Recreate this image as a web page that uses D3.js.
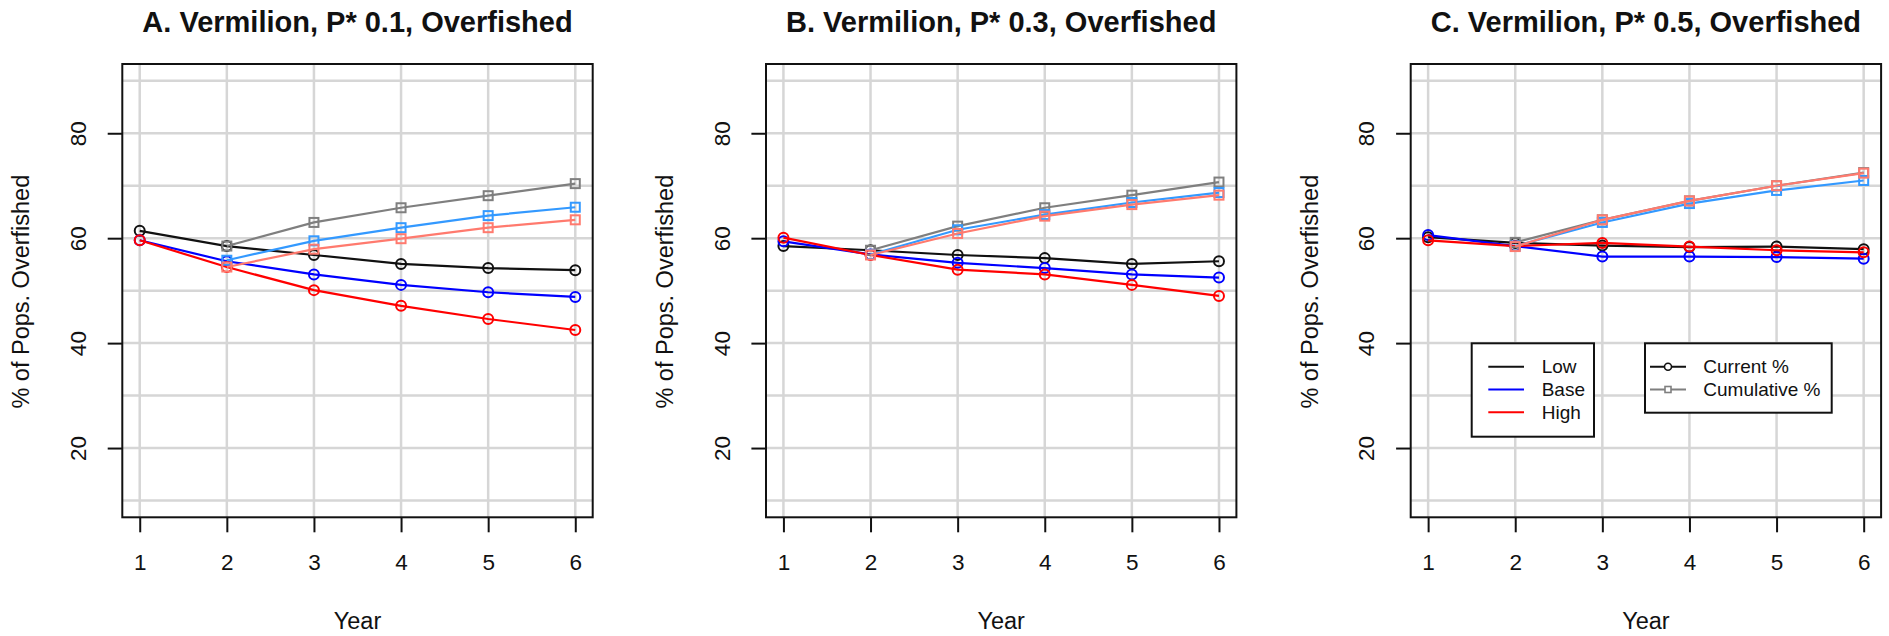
<!DOCTYPE html>
<html>
<head>
<meta charset="utf-8">
<script src="https://cdn.jsdelivr.net/npm/d3@7"></script>
<style>
    body { margin: 0; background: white; }
    svg text { font-family: "Liberation Sans", Arial, Helvetica, sans-serif; fill: #111; }
</style>
</head>
<body>
<svg id="chart" width="1889" height="636"></svg>
<script>
// values
var years = [1, 2, 3, 4, 5, 6]
var cumYears = [2, 3, 4, 5, 6]
var yTicks = [20, 40, 60, 80]
var yGrid = [10, 20, 30, 40, 50, 60, 70, 80, 90]
var titles = ["A. Vermilion, P* 0.1, Overfished", "B. Vermilion, P* 0.3, Overfished", "C. Vermilion, P* 0.5, Overfished"]
var scenarios = ["Low", "Base", "High"]
var measureNames = ["Current %", "Cumulative %"]

// current % overfished, per panel, per scenario (Low, Base, High)
var currentA = [[61.4, 58.5, 56.8, 55.1, 54.3, 53.9], [59.6, 55.6, 53.1, 51.1, 49.7, 48.8], [59.6, 54.5, 50.1, 47.1, 44.6, 42.5]]
var currentB = [[58.5, 57.7, 56.8, 56.2, 55.1, 55.6], [59.4, 56.9, 55.3, 54.3, 53.1, 52.5], [60.1, 56.8, 54.0, 53.1, 51.1, 49.0]]
var currentC = [[60.2, 59.1, 58.6, 58.3, 58.4, 57.9], [60.6, 58.5, 56.5, 56.5, 56.4, 56.1], [59.6, 58.5, 59.1, 58.4, 57.7, 57.3]]
// cumulative % overfished, years 2-6
var cumulativeA = [[58.5, 63.0, 65.8, 68.1, 70.4], [55.8, 59.5, 62.0, 64.3, 65.9], [54.5, 57.9, 59.9, 62.0, 63.5]]
var cumulativeB = [[57.7, 62.3, 65.8, 68.2, 70.7], [56.9, 61.6, 64.5, 66.8, 68.7], [56.8, 60.9, 64.2, 66.4, 68.2]]
var cumulativeC = [[59.2, 63.5, 67.1, 70.0, 72.5], [58.5, 63.0, 66.6, 69.1, 71.0], [58.4, 63.5, 67.1, 70.0, 72.4]]

var currentColors = ["#111111", "#0000ff", "#ff0000"]
var cumulativeColors = ["#7f7f7f", "#3399ff", "#ff7a6e"]

var panelLefts = [122.3, 766, 1410.7]
const plotWidth = 470.4
const plotTop = 64
const plotHeight = 453.3

var svg = d3.select("#chart");
svg.append("rect").attr("width", 1889).attr("height", 636).attr("fill", "white");

function build_panel(index, current, cumulative, withLegend) {
    var panel = svg.append("g")
        .attr("transform", "translate(" + panelLefts[index] + "," + plotTop + ")");

    // R style 4% extension on both axes
    var xScale = d3.scaleLinear().domain([0.8, 6.2]).range([0, plotWidth]);
    var yScale = d3.scaleLinear().domain([6.8, 93.2]).range([plotHeight, 0]);

    panel.append("g").selectAll("line.vgrid")
        .data(years).enter()
        .append("line").classed("vgrid", true)
        .attr("x1", d => xScale(d)).attr("x2", d => xScale(d))
        .attr("y1", 0).attr("y2", plotHeight)
        .attr("stroke", "#d6d6d6").attr("stroke-width", 2.5);
    panel.append("g").selectAll("line.hgrid")
        .data(yGrid).enter()
        .append("line").classed("hgrid", true)
        .attr("x1", 0).attr("x2", plotWidth)
        .attr("y1", d => yScale(d)).attr("y2", d => yScale(d))
        .attr("stroke", "#d6d6d6").attr("stroke-width", 2.5);

    var xAxis = panel.append("g")
        .attr("transform", "translate(0," + plotHeight + ")")
        .call(d3.axisBottom(xScale).tickValues(years).tickSize(15).tickFormat(d3.format("d")));
    xAxis.select(".domain").remove();
    xAxis.selectAll("line").attr("stroke", "#111").attr("stroke-width", 2);
    xAxis.selectAll("text")
        .attr("y", 52.7).attr("dy", 0)
        .style("font-size", "22.5px").style("font-family", "Liberation Sans, Arial, sans-serif").attr("fill", "#111");

    var yAxis = panel.append("g")
        .call(d3.axisLeft(yScale).tickValues(yTicks).tickSize(14.6));
    yAxis.select(".domain").remove();
    yAxis.selectAll("line").attr("stroke", "#111").attr("stroke-width", 2);
    yAxis.selectAll("text")
        .attr("x", 0).attr("dy", 0)
        .attr("text-anchor", "middle")
        .attr("transform", "translate(-36.3,0) rotate(-90)")
        .style("font-size", "22.5px").style("font-family", "Liberation Sans, Arial, sans-serif").attr("fill", "#111");

    var line = d3.line().x(d => xScale(d[0])).y(d => yScale(d[1]));

    // current % series: lines with open circles
    current.forEach(function(values, s) {
        var points = years.map((yr, i) => [yr, values[i]]);
        panel.append("path")
            .attr("d", line(points))
            .attr("fill", "none").attr("stroke", currentColors[s]).attr("stroke-width", 2.2);
        panel.append("g").selectAll("circle")
            .data(points).enter()
            .append("circle")
            .attr("cx", d => xScale(d[0])).attr("cy", d => yScale(d[1]))
            .attr("r", 5)
            .attr("fill", "none").attr("stroke", currentColors[s]).attr("stroke-width", 2);
    });

    // cumulative % series: lines with open squares
    cumulative.forEach(function(values, s) {
        var points = cumYears.map((yr, i) => [yr, values[i]]);
        panel.append("path")
            .attr("d", line(points))
            .attr("fill", "none").attr("stroke", cumulativeColors[s]).attr("stroke-width", 2.2);
        panel.append("g").selectAll("rect")
            .data(points).enter()
            .append("rect")
            .attr("x", d => xScale(d[0]) - 4.5).attr("y", d => yScale(d[1]) - 4.5)
            .attr("width", 9).attr("height", 9)
            .attr("fill", "none").attr("stroke", cumulativeColors[s]).attr("stroke-width", 2);
    });

    panel.append("rect")
        .attr("width", plotWidth).attr("height", plotHeight)
        .attr("fill", "none").attr("stroke", "#111").attr("stroke-width", 2);

    svg.append("text")
        .attr("x", panelLefts[index] + plotWidth / 2)
        .attr("y", 32)
        .attr("text-anchor", "middle")
        .style("font-size", "29px").style("font-weight", "bold")
        .text(titles[index]);

    panel.append("text")
        .attr("x", plotWidth / 2)
        .attr("y", 565)
        .attr("text-anchor", "middle")
        .style("font-size", "23.5px")
        .text("Year");

    panel.append("text")
        .attr("transform", "translate(-93," + (plotHeight / 2 + 1) + ") rotate(-90)")
        .attr("text-anchor", "middle")
        .style("font-size", "23.5px")
        .text("% of Pops. Overfished");

    if (withLegend) build_legends(panel);
}

function build_legends(panel) {
    const rowsY = [302.7, 325.5, 348.3];

    var box1 = panel.append("g").attr("transform", "translate(61,279.3)");
    box1.append("rect").attr("width", 122.3).attr("height", 93.4)
        .attr("fill", "white").attr("stroke", "#111").attr("stroke-width", 2);
    scenarios.forEach(function(name, s) {
        var y = rowsY[s] - 279.3;
        box1.append("line")
            .attr("x1", 16.6).attr("x2", 52.3).attr("y1", y).attr("y2", y)
            .attr("stroke", currentColors[s]).attr("stroke-width", 2);
        box1.append("text")
            .attr("x", 70).attr("y", y + 6.8)
            .style("font-size", "19px")
            .text(name);
    });

    var box2 = panel.append("g").attr("transform", "translate(234.3,279.3)");
    box2.append("rect").attr("width", 186.7).attr("height", 69.4)
        .attr("fill", "white").attr("stroke", "#111").attr("stroke-width", 2);
    var legendColors = [currentColors[0], cumulativeColors[0]];
    measureNames.forEach(function(name, m) {
        var y = rowsY[m] - 279.3;
        box2.append("line")
            .attr("x1", 5).attr("x2", 41).attr("y1", y).attr("y2", y)
            .attr("stroke", legendColors[m]).attr("stroke-width", 2);
        if (m == 0) {
            box2.append("circle").attr("cx", 23).attr("cy", y).attr("r", 3.5)
                .attr("fill", "white").attr("stroke", legendColors[m]).attr("stroke-width", 1.6);
        } else {
            box2.append("rect").attr("x", 20).attr("y", y - 3).attr("width", 6).attr("height", 6)
                .attr("fill", "white").attr("stroke", legendColors[m]).attr("stroke-width", 1.6);
        }
        box2.append("text")
            .attr("x", 58.3).attr("y", y + 6.8)
            .style("font-size", "19px")
            .text(name);
    });
}

build_panel(0, currentA, cumulativeA, false);
build_panel(1, currentB, cumulativeB, false);
build_panel(2, currentC, cumulativeC, true);
</script>
</body>
</html>
